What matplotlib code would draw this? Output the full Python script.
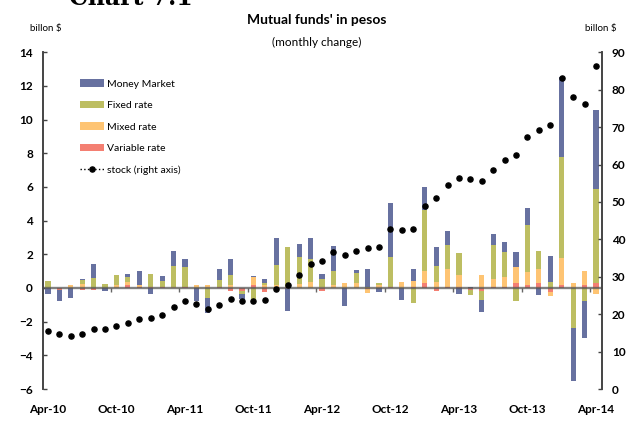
import numpy as np
import matplotlib
matplotlib.use("Agg")
import matplotlib.pyplot as plt
from matplotlib.lines import Line2D

plt.rcParams['font.family'] = ['Lato', 'DejaVu Sans']

# monthly change, billion $ (Apr-10 .. Apr-14)
money_market = [-0.35, -0.65, -0.60, 0.08, 0.83, -0.20, 0.00, 0.18, 0.83, -0.37,
                0.30, 0.89, 0.47, -0.80, -0.87, 0.60, 0.95, -0.30, 0.08, 0.24,
                1.60, -1.39, 0.80, 1.24, 0.30, 1.48, -1.07, 0.12, 1.10, -0.25,
                3.20, -0.74, 0.71, 1.36, 1.18, 0.83, -0.33, 0.05, -0.75, 0.65,
                0.55, 0.85, 1.05, -0.44, 1.52, 4.73, -3.12, -2.22, 4.73]
fixed_rate = [0.40, 0.00, 0.00, 0.23, 0.57, 0.22, 0.60, 0.30, 0.00, 0.80,
              0.37, 1.25, 1.20, 0.00, -0.60, 0.47, 0.65, -0.14, -0.67, 0.12,
              1.24, 2.40, 1.60, 1.36, 0.47, 0.83, 0.00, 0.65, 0.05, 0.12,
              1.80, 0.00, -0.90, 3.65, 0.95, 1.42, 1.25, -0.30, -0.50, 2.00,
              1.50, -0.78, 2.80, 1.07, 0.38, 6.00, -2.38, -0.75, 5.60]
mixed_rate = [0.00, 0.00, 0.15, 0.22, 0.00, 0.00, 0.15, 0.14, 0.10, 0.00,
              0.00, 0.08, 0.00, 0.15, 0.15, 0.00, 0.15, 0.00, 0.50, 0.15,
              0.12, 0.00, 0.22, 0.38, 0.08, 0.20, 0.27, 0.27, -0.25, 0.18,
              0.00, 0.33, 0.36, 0.71, 0.33, 1.10, 0.75, 0.00, 0.80, 0.45,
              0.60, 1.00, 0.78, 0.83, -0.24, 1.65, 0.27, 0.83, -0.37]
variable_rate = [0.00, -0.10, 0.00, -0.10, -0.10, 0.00, 0.00, 0.20, 0.07, 0.03,
                 0.03, 0.00, 0.03, 0.00, 0.00, 0.03, -0.20, -0.20, 0.15, -0.24,
                 0.03, 0.05, 0.00, 0.00, -0.20, 0.00, 0.00, 0.00, -0.05, 0.00,
                 0.03, 0.00, 0.08, 0.28, -0.20, 0.05, 0.05, -0.12, -0.20, 0.08,
                 0.06, 0.27, 0.15, 0.27, -0.25, 0.15, 0.00, 0.20, 0.27]
# stock, billion $ (right axis)
stock = [15.4, 14.7, 14.3, 14.7, 16.0, 16.0, 16.9, 17.7, 18.6, 19.1,
         19.8, 21.9, 23.6, 22.8, 21.5, 22.5, 24.1, 23.5, 23.5, 23.9,
         26.8, 27.9, 30.5, 33.5, 34.2, 36.7, 35.9, 37.0, 37.8, 38.0,
         42.9, 42.5, 42.9, 48.8, 51.1, 54.6, 56.4, 56.0, 55.5, 58.6,
         61.3, 62.6, 67.4, 69.1, 70.6, 83.2, 78.0, 76.1, 86.3]
tick_labels = ['Apr-10', 'Oct-10', 'Apr-11', 'Oct-11', 'Apr-12',
               'Oct-12', 'Apr-13', 'Oct-13', 'Apr-14']

series = [
    ('Variable rate', variable_rate, '#F47F72'),
    ('Mixed rate', mixed_rate, '#FEC473'),
    ('Fixed rate', fixed_rate, '#BDBE62'),
    ('Money Market', money_market, '#6771A0'),
]

x = np.arange(len(stock))

fig = plt.figure(figsize=(6.3, 4.21), dpi=100)
ax = fig.add_axes([0.0678, 0.076, 0.8878, 0.7998])
ax2 = ax.twinx()

pos_base = np.zeros(len(x))
neg_base = np.zeros(len(x))
bars = {}
for name, vals, col in series:
    v = np.array(vals)
    base = np.where(v >= 0, pos_base, neg_base)
    bars[name] = ax.bar(x, v, width=0.45, bottom=base, color=col, label=name, zorder=2)
    pos_base += np.where(v >= 0, v, 0)
    neg_base += np.where(v < 0, v, 0)

ax.axhline(0, color='#555555', alpha=0.75, lw=1.7, zorder=3)

ax2.plot(x, stock, 'o', color='black', ms=3.7, ls='none', zorder=4)

ax.set_xlim(-0.46, 48.53)
ax.set_ylim(-6, 14)
ax.set_yticks(np.arange(-6, 15, 2))
ax2.set_ylim(0, 90)
ax2.set_yticks(np.arange(0, 91, 10))

ax.set_xticks(x[::6])
ax.set_xticklabels(tick_labels, fontweight='bold', fontsize=8.5)
ax.tick_params(axis='x', length=0, pad=11)
ax.tick_params(axis='y', direction='in', length=3, width=1, pad=7,
               labelsize=8.5, color='#444444')
ax2.tick_params(axis='y', direction='in', length=3, width=1, pad=7,
                labelsize=8.5, color='#444444')
for lab in ax.get_yticklabels() + ax2.get_yticklabels():
    lab.set_fontweight('bold')

for a in (ax, ax2):
    a.spines['top'].set_visible(False)
    a.spines['bottom'].set_visible(False)
    a.spines['left'].set_color('#444444')
    a.spines['right'].set_color('#444444')
    a.spines['left'].set_linewidth(1.2)
    a.spines['right'].set_linewidth(1.2)

# small ticks on the zero line between half-years
zero_ax = ax.secondary_xaxis(0.3)
zero_ax.set_xticks(np.arange(5.5, 48, 6))
zero_ax.set_xticklabels([])
zero_ax.tick_params(axis='x', direction='out', length=3, width=1, color='#666666')
zero_ax.spines['bottom'].set_visible(False)

handles = [bars['Money Market'], bars['Fixed rate'], bars['Mixed rate'], bars['Variable rate'],
           Line2D([], [], color='black', ls=':', lw=1, marker='o', ms=3.7)]
labels = ['Money Market', 'Fixed rate', 'Mixed rate', 'Variable rate', 'stock (right axis)']
ax2.legend(handles, labels, loc='upper left', bbox_to_anchor=(0.057, 0.935),
           frameon=False, fontsize=7.5, borderpad=0, handlelength=2.3,
           handleheight=0.75, labelspacing=1.15, handletextpad=0.35)

fig.text(0.502, 0.952, "Mutual funds' in pesos", ha='center', va='center',
         fontsize=10, fontweight='bold')
fig.text(0.502, 0.900, '(monthly change)', ha='center', va='center', fontsize=8.5)
fig.text(0.072, 0.933, 'billon $', ha='center', va='center', fontsize=7)
fig.text(0.953, 0.933, 'billon $', ha='center', va='center', fontsize=7)
# header of the page, cut at the top edge as in the source
fig.text(0.11, 1 - 5 / 421, 'Chart 7.1', ha='left', va='baseline',
         fontsize=17, fontweight='bold', family='DejaVu Serif')

fig.savefig('out.png', dpi=100)
